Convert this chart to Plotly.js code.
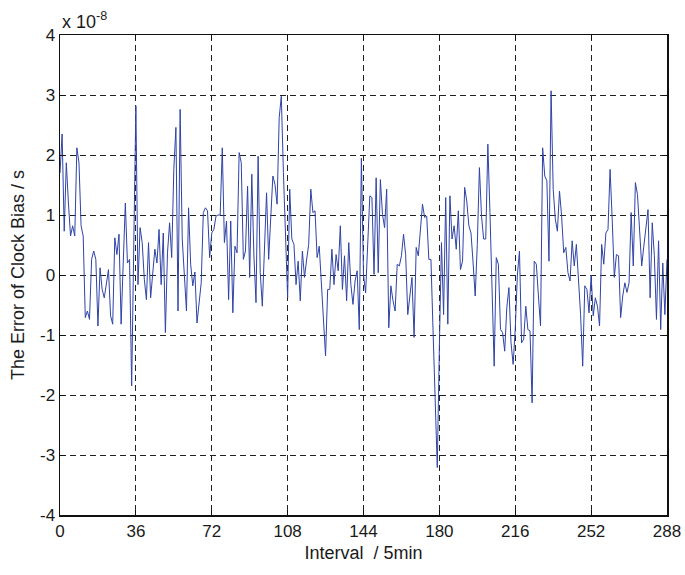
<!DOCTYPE html>
<html>
<head>
<meta charset="utf-8">
<script src="https://cdn.plot.ly/plotly-3.0.1.min.js"></script>
<style>html,body{margin:0;padding:0;background:#fff;}#chart{width:685px;height:575px;}</style>
</head>
<body>
<div id="chart"></div>
<script>
// Clock bias error, in units of 1e-8 s, one value per 5-min interval (0..288)
const biasE8 = [
 1.7, 2.35, 0.73, 1.87, 1.2, 0.65, 0.82, 0.65, 2.12, 1.87,
 0.82, 0.65, -0.71, -0.6, -0.74, 0.26, 0.4, 0.26, -0.85, 0.12,
 -0.24, -0.38, -0.15, 0.09, -0.68, -0.82, 0.62, 0.34, 0.68, -0.82,
 0.2, 1.2, 0.2, 0.26, -1.85, 0.5, 2.82, -0.16, 0.79, 0.54,
 -0.07, -0.41, 0.54, -0.38, 0.0, 0.43, 0.2, 0.76, -0.16, 0.7,
 -0.96, 0.37, 0.87, 0.29, 1.76, 2.46, -0.6, 2.76, 0.6, 0.0,
 -0.6, 1.12, 0.18, -0.18, 0.05, -0.8, -0.45, -0.13, 1.04, 1.12,
 1.07, 0.29, 0.7, 0.76, 0.98, 1.0, 1.0, 2.12, 0.54, 0.9,
 -0.41, 0.9, -0.63, 0.48, 0.37, 2.04, 1.87, 0.26, 0.4, 1.48,
 -0.04, 1.68, 0.32, -0.46, 1.98, 0.04, -0.52, 0.5, 1.37, 0.26,
 1.0, 1.65, 1.51, 1.18, 2.62, 2.98, 1.71, 0.6, -0.38, 1.43,
 0.6, 0.51, -0.16, 0.23, -0.43, 0.4, -0.04, 0.25, 0.51, 1.43,
 1.04, 1.07, 0.29, 0.48, -0.07, -0.7, -1.35, -0.24, -0.24, 0.43,
 -0.16, 0.34, 0.07, 0.82, -0.24, 0.32, -0.43, 0.54, -0.16, -0.49,
 -0.1, 0.07, -0.91, 1.95, 0.0, -0.3, 0.65, 1.32, 1.29, 0.01,
 1.62, 0.04, 1.59, 1.01, 0.79, 1.43, -0.88, -0.18, -0.43, -0.6,
 0.18, 0.15, 0.32, 0.68, 0.34, -0.66, -0.35, -0.04, -1.04, 0.46,
 0.32, 0.82, 1.18, 0.96, 0.98, 0.26, 0.26, -0.93, -2.0, -3.21,
 -1.18, 0.54, -0.66, 1.29, -0.82, 1.32, 0.6, 0.82, 0.43, 1.07,
 0.09, 0.23, 1.46, 1.23, 0.82, 0.7, 0.2, -0.35, 0.51, 1.79,
 0.98, 0.6, 0.6, 2.18, 1.04, -0.35, -1.52, 0.29, 0.18, -0.91,
 -0.96, -1.27, -0.54, -0.21, -1.13, -1.49, -0.9, 0.0, 0.4, -1.13,
 -1.07, -0.52, -0.91, -0.93, -2.13, 0.23, 0.18, -0.35, -0.85, 2.12,
 1.65, 1.57, 0.23, 3.07, 1.43, 0.93, 0.73, 1.4, 0.98, 0.37,
 0.46, 0.04, -0.1, 0.57, 0.15, 0.51, 0.0, -0.66, -1.52, -0.18,
 -0.24, -0.63, 0.0, -0.68, -0.38, -0.52, -0.85, 0.51, 0.18, 0.7,
 0.76, 1.76, 0.93, -0.04, 0.34, 0.32, -0.71, -0.35, -0.13, -0.29,
 -0.13, 1.04, 0.15, 1.54, 1.34, 0.76, 0.15, 0.48, 0.79, 1.09,
 -0.38, 0.87, 0.32, -0.74, 0.57, -0.91, 0.2, -0.66, 0.26
];
const intervals = biasE8.map((_, i) => i);
const xTicks = [0, 36, 72, 108, 144, 180, 216, 252, 288];
const yTicks = [-4, -3, -2, -1, 0, 1, 2, 3, 4];

const trace = {
  x: intervals, y: biasE8, type: 'scatter', mode: 'lines',
  line: {color: '#2f43a6', width: 1}, hoverinfo: 'skip'
};
const font = {family: 'Liberation Sans, Arial, sans-serif', color: '#1a1a1a'};
const layout = {
  width: 685, height: 575,
  margin: {l: 60, r: 18, t: 35, b: 60},
  paper_bgcolor: '#fff', plot_bgcolor: '#fff',
  showlegend: false,
  font: Object.assign({size: 17}, font),
  xaxis: {
    range: [0, 288], tickvals: xTicks, ticktext: xTicks.map(String),
    showgrid: true, gridcolor: '#222', gridwidth: 1, griddash: '6px,4px',
    showline: true, linecolor: '#111', linewidth: 1.5, mirror: 'ticks',
    ticks: 'inside', ticklen: 5, tickcolor: '#111', zeroline: false,
    tickfont: Object.assign({size: 17}, font),
    title: {text: 'Interval  / 5min', font: Object.assign({size: 18}, font), standoff: 6}
  },
  yaxis: {
    range: [-4, 4], tickvals: yTicks, ticktext: yTicks.map(String),
    showgrid: true, gridcolor: '#222', gridwidth: 1, griddash: '6px,4px',
    showline: true, linecolor: '#111', linewidth: 1.5, mirror: 'ticks',
    ticks: 'inside', ticklen: 5, tickcolor: '#111', zeroline: false,
    tickfont: Object.assign({size: 17}, font),
    title: {text: 'The Error of Clock Bias / s', font: Object.assign({size: 18}, font), standoff: 10}
  },
  annotations: [{
    xref: 'paper', yref: 'paper', x: 0, y: 1, xanchor: 'left', yanchor: 'bottom',
    text: 'x 10<sup>-8</sup>', showarrow: false, yshift: 1,
    font: Object.assign({size: 18}, font)
  }]
};
Plotly.newPlot('chart', [trace], layout, {displayModeBar: false, staticPlot: true});
</script>
</body>
</html>
